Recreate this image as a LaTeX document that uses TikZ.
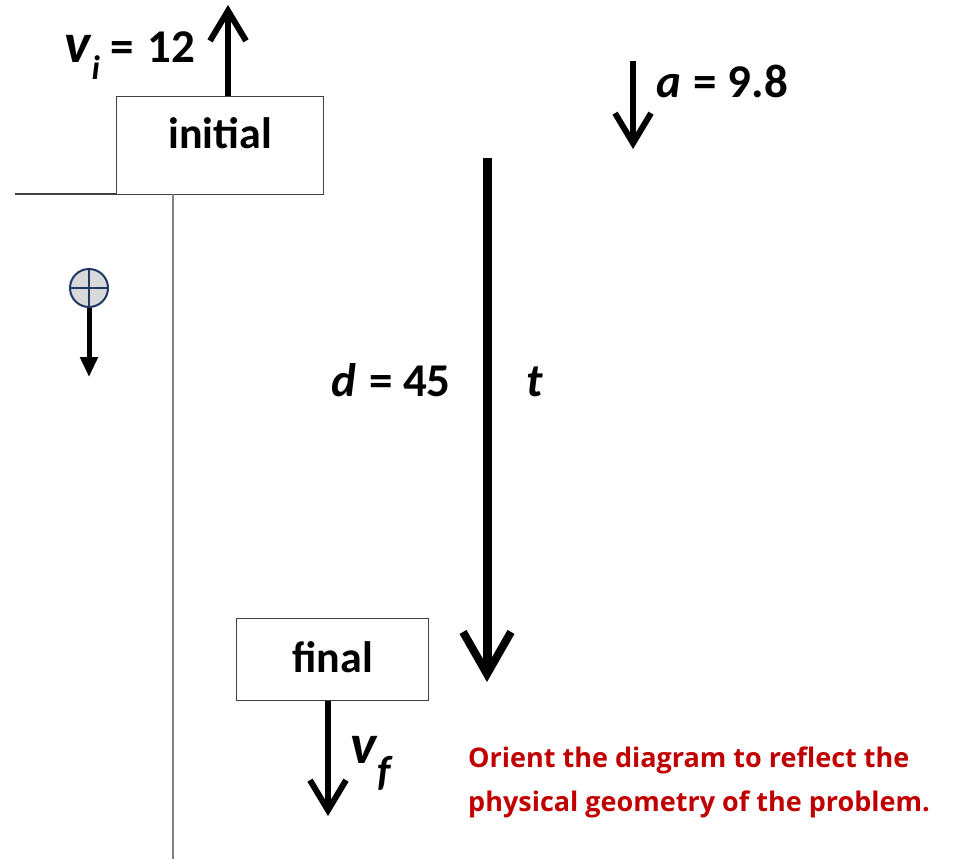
\documentclass[tikz,border=0pt]{standalone}
\usepackage{fontspec}
\setmainfont{Carlito}
\newfontfamily\redfont{Open Sans}
\usetikzlibrary{arrows.meta}
\definecolor{boxgray}{HTML}{404040}
\definecolor{linegray}{HTML}{7F7F7F}
\definecolor{navy}{HTML}{1F3864}
\definecolor{lightfill}{HTML}{D9D9D9}
\definecolor{darkred}{HTML}{C00000}
\tikzset{
  statebox/.style={draw=boxgray, line width=1.3pt, fill=white, inner sep=0pt, text height=30pt, font=\fontsize{44}{50}\selectfont\bfseries},
  lbl/.style={inner sep=0pt, font=\fontsize{47}{52}\selectfont\bfseries},
  note/.style={inner sep=0pt, anchor=base west, text=darkred, font=\redfont\bfseries\fontsize{27}{32}\selectfont},
  vecarrow/.style={line width=6pt, -{Straight Barb[length=30pt, width=36pt, line width=6pt]}},
  bigarrow/.style={line width=9pt, -{Straight Barb[length=42pt, width=48pt, line width=8pt]}},
  refline/.style={line width=1.2pt},
}
\newcommand{\bigv}{{\fontsize{56}{58}\selectfont\textit{v}}}
\begin{document}
\begin{tikzpicture}[x=1pt,y=-1pt]
\useasboundingbox (0,0) rectangle (955,859);
% reference lines
\coordinate (gl) at (15,194);
\coordinate (vb) at (173,859);
\node[statebox, text depth=24pt, minimum width=207pt, minimum height=98pt, anchor=north west] (init) at (116,96) {initial};
\coordinate (vt) at (173,194);
\draw[refline, draw=boxgray] (gl) -- (gl -| init.west);
\draw[refline, draw=linegray] (vt) -- (vb);
% initial velocity
\coordinate (vitop) at (228,5);
\draw[vecarrow] (228,96) -- (vitop);
\node[lbl, anchor=base west] (vilbl) at (64,63) {\bigv\raisebox{-17pt}{\fontsize{34}{34}\selectfont\itshape i}\hspace{10pt}=\hspace{14pt}12};
% acceleration
\coordinate (atop) at (633,61);
\coordinate (abot) at (633,149);
\draw[vecarrow] (atop) -- (abot);
\node[lbl, anchor=base west] (albl) at (656,97) {\textit{a}\hspace{2pt} = 9.8};
% displacement
\coordinate (dtop) at (487,158);
\coordinate (dbot) at (487,682);
\draw[bigarrow] (dtop) -- (dbot);
\node[lbl, anchor=base east] (dlbl) at (451,396) {\textit{d}\hspace{2pt} = 45};
\node[lbl, anchor=base west] (tlbl) at (526,396) {\textit{t}};
% final
\node[statebox, text depth=4pt, minimum width=192pt, minimum height=82pt, anchor=north west] (fin) at (236,618) {final};
\coordinate (vfbot) at (328,816);
\draw[vecarrow] (fin.south -| vfbot) -- (vfbot);
\node[lbl, anchor=base west] (vflbl) at (350,763) {\bigv\raisebox{-22pt}{\fontsize{42}{42}\selectfont\itshape f}};
% sign convention
\node[circle, draw=navy, fill=lightfill, line width=2pt, minimum size=38pt, inner sep=0pt] (pc) at (89,288) {};
\draw[navy, line width=2pt] (pc.north) -- (pc.south) (pc.west) -- (pc.east);
\coordinate (pcend) at (89,377);
\draw[line width=5pt, -{Triangle[length=20pt, width=17pt]}] (pc.south) -- (pcend);
% note
\node[note] (note1) at (468,767) {Orient the diagram to reflect the};
\node[note] (note2) at (468,811) {physical geometry of the problem.};
\end{tikzpicture}
\end{document}
